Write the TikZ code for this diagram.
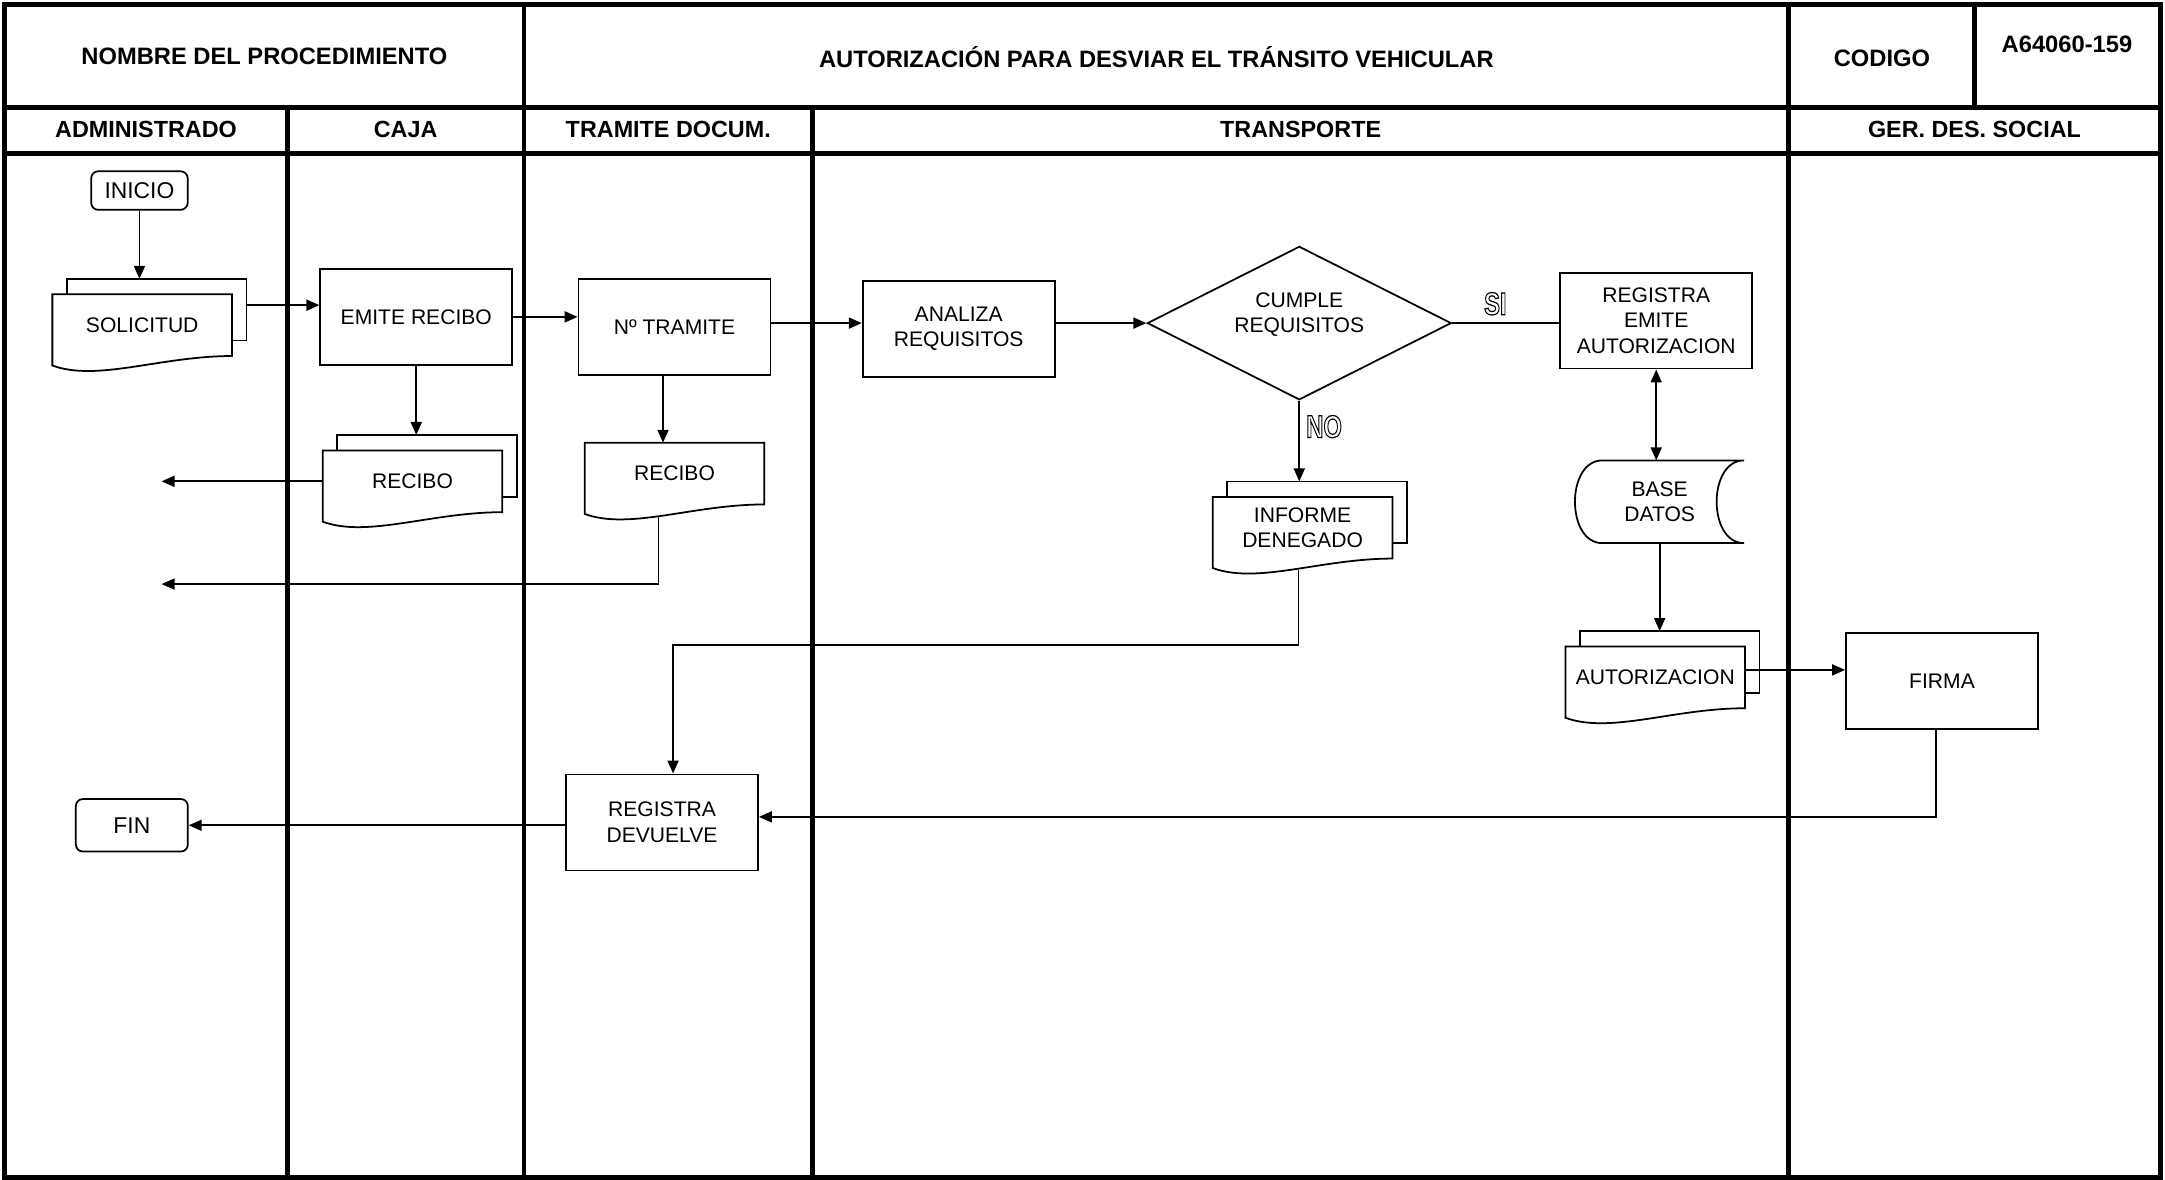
\documentclass[tikz,border=0pt]{standalone}
\usepackage{fontspec}
\setmainfont{Liberation Sans}
\usepackage{tikz}
\usetikzlibrary{arrows.meta,shapes.geometric}
\newcommand{\outl}[1]{\scalebox{0.75}[1]{\special{pdf:literal direct 1 Tr 0.7 w}#1\special{pdf:literal direct 0 Tr}}}

\begin{document}
\begin{tikzpicture}[x=0.027614cm,y=-0.027614cm,
    every node/.style={font=\fontsize{12}{14.5}\selectfont,align=center},
    ln/.style={line width=1pt},
    thk/.style={line width=2.8pt},
    arr/.style={ln,-{Triangle[length=0.26cm,width=0.22cm]}},
    hd/.style={font=\fontsize{13.5}{16}\selectfont\bfseries},
    box/.style={draw,ln,minimum width=3.84cm,minimum height=1.92cm,inner sep=1pt},
    term/.style={draw,ln,rounded corners=0.14cm,inner sep=1pt,font=\fontsize{13}{15}\selectfont},
    dec/.style={diamond,draw,ln,aspect=2,minimum width=6.08cm,minimum height=3.07cm,inner sep=0pt},
    back/.style={append after command={\pgfextra{\draw[ln,fill=white] ([shift={(0.29cm,0.31cm)}]\tikzlastnode.north west) rectangle ([shift={(0.29cm,0.31cm)}]\tikzlastnode.south east);}}},
    docu/.style={minimum width=3.58cm,minimum height=1.22cm,inner sep=0pt,
      append after command={\pgfextra{\draw[ln,fill=white] (\tikzlastnode.north west) -- (\tikzlastnode.north east) -- (\tikzlastnode.south east) .. controls ([xshift=-1.43cm]\tikzlastnode.south east) and ([shift={(0.9cm,-0.52cm)}]\tikzlastnode.south west) .. ([yshift=-0.19cm]\tikzlastnode.south west) -- cycle;}}},
    mdocu/.style={back,docu},
    sdat/.style={minimum width=3.36cm,minimum height=1.64cm,inner sep=0pt,
      append after command={\pgfextra{\draw[ln] ([xshift=0.54cm]\tikzlastnode.north west) -- (\tikzlastnode.north east) .. controls ([xshift=-0.73cm]\tikzlastnode.north east) and ([xshift=-0.73cm]\tikzlastnode.south east) .. (\tikzlastnode.south east) -- ([xshift=0.54cm]\tikzlastnode.south west) .. controls ([xshift=-0.19cm]\tikzlastnode.south west) and ([xshift=-0.19cm]\tikzlastnode.north west) .. ([xshift=0.54cm]\tikzlastnode.north west);}}},
    lbl/.style={font=\fontsize{18}{18}\selectfont\bfseries}]
  \useasboundingbox (0,0) rectangle (1568,854);
  \draw[thk] (3.5,3.5) rectangle (1564.5,852.5);
  \draw[thk] (3.5,77.9) -- (1564.5,77.9);
  \draw[thk] (3.5,111) -- (1564.5,111);
  \foreach \x in {379.5,1295.5} \draw[thk] (\x,3.5) -- (\x,852.5);
  \draw[thk] (1430.2,3.5) -- (1430.2,77.9);
  \foreach \x in {208,588.6} \draw[thk] (\x,77.9) -- (\x,852.5);
  \node[hd] (nom) at (191.5,41) {NOMBRE DEL PROCEDIMIENTO};
  \node[hd] (tit) at (837.5,41) {AUTORIZACIÓN PARA DESVIAR EL TRÁNSITO VEHICULAR};
  \node[hd] (cod) at (1363,42) {CODIGO};
  \node[hd] (num) at (1497,32) {A64060-159};
  \foreach \t/\x [count=\i] in {ADMINISTRADO/105.75,CAJA/293.75,TRAMITE DOCUM./484,TRANSPORTE/942,GER. DES. SOCIAL/1430}
    \node[hd,font=\fontsize{13.3}{16}\selectfont\bfseries] (lane\i) at (\x,93.8) {\t};

  \node[term,minimum width=1.93cm,minimum height=0.77cm] (ini) at (101,138) {INICIO};
  \node[mdocu] (sol) at (103,235.5) {SOLICITUD};
  \node[box] (emi) at (301.5,229.5) {EMITE RECIBO};
  \node[mdocu] (rec1) at (298.75,348.6) {RECIBO};
  \node[box] (tra) at (488.5,237) {Nº TRAMITE};
  \node[docu] (rec2) at (488.5,343) {RECIBO};
  \node[box] (ana) at (694.3,238.2) {ANALIZA\\REQUISITOS};
  \node[dec] (cum) at (941,234) {CUMPLE\\REQUISITOS\\[-2.3pt]};
  \node[box] (reg) at (1199.5,232.2) {REGISTRA\\EMITE\\AUTORIZACION};
  \node[sdat] (bd) at (1202,363.4) {BASE\\DATOS};
  \node[mdocu] (inf) at (943.4,382.2) {INFORME\\DENEGADO};
  \node[mdocu] (aut) at (1198.8,490.6) {AUTORIZACION};
  \node[box] (fir) at (1406.5,493.3) {FIRMA};
  \node[box] (dev) at (479.5,595.6) {REGISTRA\\DEVUELVE};
  \node[term,minimum width=2.24cm,minimum height=1.05cm] (fin) at (95.5,597.7) {FIN};
  \node[lbl] (si) at (1083,220) {\outl{SI}};
  \node[lbl] (no) at (959,309) {\outl{NO}};
  \coordinate (o1) at (117,348.6);
  \coordinate (o2) at (117,423);
  \coordinate (j) at (700,467.2);

  \draw[arr] (ini) -- ([yshift=0.31cm]ini |- sol.north);
  \draw[arr] ([shift={(0.29cm,0.4cm)}]sol.east) coordinate (s) -- (s -| emi.west);
  \draw[arr] (emi.east) -- (emi.east -| tra.west);
  \draw[arr] (emi.south) -- ([yshift=0.31cm]emi.south |- rec1.north);
  \draw[arr] (rec1.west) -- (rec1.west -| o1);
  \draw[arr] ([xshift=-0.23cm]tra.south) -- ([xshift=-0.23cm]tra.south |- rec2.north);
  \draw[arr] ([shift={(-0.32cm,-0.24cm)}]rec2.south) |- (o2);
  \draw[arr] (tra.east |- cum) -- (ana.west |- cum);
  \draw[arr] (ana.east |- cum) -- (cum.west);
  \draw[ln] (cum.east) -- (cum.east -| reg.west);
  \draw[ln,{Triangle[length=0.26cm,width=0.22cm]}-{Triangle[length=0.26cm,width=0.22cm]}] (reg.south) -- (reg.south |- bd.north);
  \draw[arr] (cum.south) -- ([yshift=0.31cm]cum.south |- inf.north);
  \draw[arr] (bd.south) -- ([yshift=0.31cm]bd.south |- aut.north);
  \draw[arr] ([yshift=0.15cm]aut.east) -- ([yshift=0.15cm]aut.east -| fir.west);
  \draw[arr] ([shift={(-0.08cm,-0.22cm)}]inf.south) |- (j) -| ([xshift=0.22cm]dev.north);
  \draw[arr] ([xshift=-0.12cm]fir.south) |- ([yshift=0.11cm]dev.east);
  \draw[arr] (dev.west |- fin.east) -- (fin.east);
\end{tikzpicture}
\end{document}
